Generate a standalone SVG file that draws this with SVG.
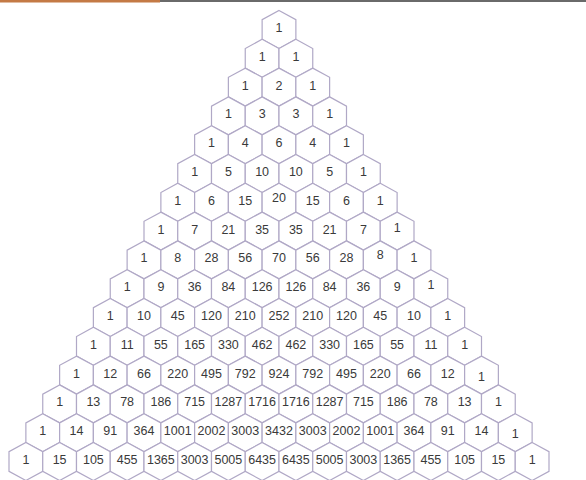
<svg xmlns="http://www.w3.org/2000/svg" xmlns:xlink="http://www.w3.org/1999/xlink" width="586" height="480" viewBox="0 0 586 480">
<defs>
<style>
.hx{fill:#ffffff;stroke:#b0a8c6;stroke-width:1.2}
text{font-family:"Liberation Sans",Arial,sans-serif;font-size:12.5px;fill:#3a3a3a;text-anchor:middle}
</style>
<path id="h" class="hx" d="M0,-19 L16.875,-9.8 L16.875,9.8 L0,19 L-16.875,9.8 L-16.875,-9.8 Z"/>
</defs>
<rect x="0" y="0" width="586" height="480" fill="#ffffff"/>
<rect x="0" y="0" width="160" height="2.5" fill="#c47a45"/>
<rect x="160" y="0" width="426" height="2" fill="#6a6a6a"/>
<g id="connectors"></g>
<g id="row0" transform="translate(279,29.5)">
<g id="n0_0"><use href="#h"/><text y="2.5">1</text></g>
</g>
<g id="row1" transform="translate(262.125,58.3)">
<g id="n1_0"><use href="#h"/><text y="2.5">1</text></g>
<g id="n1_1" transform="translate(33.75,0)"><use href="#h"/><text y="2.5">1</text></g>
</g>
<g id="row2" transform="translate(245.25,87.1)">
<g id="n2_0"><use href="#h"/><text y="2.5">1</text></g>
<g id="n2_1" transform="translate(33.75,0)"><use href="#h"/><text y="2.5">2</text></g>
<g id="n2_2" transform="translate(67.5,0)"><use href="#h"/><text y="2.5">1</text></g>
</g>
<g id="row3" transform="translate(228.375,115.9)">
<g id="n3_0"><use href="#h"/><text y="2.5">1</text></g>
<g id="n3_1" transform="translate(33.75,0)"><use href="#h"/><text y="2.5">3</text></g>
<g id="n3_2" transform="translate(67.5,0)"><use href="#h"/><text y="2.5">3</text></g>
<g id="n3_3" transform="translate(101.25,0)"><use href="#h"/><text y="2.5">1</text></g>
</g>
<g id="row4" transform="translate(211.5,144.7)">
<g id="n4_0"><use href="#h"/><text y="2.5">1</text></g>
<g id="n4_1" transform="translate(33.75,0)"><use href="#h"/><text y="2.5">4</text></g>
<g id="n4_2" transform="translate(67.5,0)"><use href="#h"/><text y="2.5">6</text></g>
<g id="n4_3" transform="translate(101.25,0)"><use href="#h"/><text y="2.5">4</text></g>
<g id="n4_4" transform="translate(135,0)"><use href="#h"/><text y="2.5">1</text></g>
</g>
<g id="row5" transform="translate(194.625,173.5)">
<g id="n5_0"><use href="#h"/><text y="2.5">1</text></g>
<g id="n5_1" transform="translate(33.75,0)"><use href="#h"/><text y="2.5">5</text></g>
<g id="n5_2" transform="translate(67.5,0)"><use href="#h"/><text y="2.5">10</text></g>
<g id="n5_3" transform="translate(101.25,0)"><use href="#h"/><text y="2.5">10</text></g>
<g id="n5_4" transform="translate(135,0)"><use href="#h"/><text y="2.5">5</text></g>
<g id="n5_5" transform="translate(168.75,0)"><use href="#h"/><text y="2.5">1</text></g>
</g>
<g id="row6" transform="translate(177.75,202.3)">
<g id="n6_0"><use href="#h"/><text y="2.5">1</text></g>
<g id="n6_1" transform="translate(33.75,0)"><use href="#h"/><text y="2.5">6</text></g>
<g id="n6_2" transform="translate(67.5,0)"><use href="#h"/><text y="2.5">15</text></g>
<g id="n6_3" transform="translate(101.25,0)"><use href="#h"/><text y="0">20</text></g>
<g id="n6_4" transform="translate(135,0)"><use href="#h"/><text y="2.5">15</text></g>
<g id="n6_5" transform="translate(168.75,0)"><use href="#h"/><text y="2.5">6</text></g>
<g id="n6_6" transform="translate(202.5,0)"><use href="#h"/><text y="2.5">1</text></g>
</g>
<g id="row7" transform="translate(160.875,231.1)">
<g id="n7_0"><use href="#h"/><text y="2.5">1</text></g>
<g id="n7_1" transform="translate(33.75,0)"><use href="#h"/><text y="2.5">7</text></g>
<g id="n7_2" transform="translate(67.5,0)"><use href="#h"/><text y="2.5">21</text></g>
<g id="n7_3" transform="translate(101.25,0)"><use href="#h"/><text y="2.5">35</text></g>
<g id="n7_4" transform="translate(135,0)"><use href="#h"/><text y="2.5">35</text></g>
<g id="n7_5" transform="translate(168.75,0)"><use href="#h"/><text y="2.5">21</text></g>
<g id="n7_6" transform="translate(202.5,0)"><use href="#h"/><text y="2.5">7</text></g>
<g id="n7_7" transform="translate(236.25,0)"><use href="#h"/><text y="0.5">1</text></g>
</g>
<g id="row8" transform="translate(144,259.9)">
<g id="n8_0"><use href="#h"/><text y="2.5">1</text></g>
<g id="n8_1" transform="translate(33.75,0)"><use href="#h"/><text y="2.5">8</text></g>
<g id="n8_2" transform="translate(67.5,0)"><use href="#h"/><text y="2.5">28</text></g>
<g id="n8_3" transform="translate(101.25,0)"><use href="#h"/><text y="2.5">56</text></g>
<g id="n8_4" transform="translate(135,0)"><use href="#h"/><text y="2.5">70</text></g>
<g id="n8_5" transform="translate(168.75,0)"><use href="#h"/><text y="2.5">56</text></g>
<g id="n8_6" transform="translate(202.5,0)"><use href="#h"/><text y="2.5">28</text></g>
<g id="n8_7" transform="translate(236.25,0)"><use href="#h"/><text y="-0.5">8</text></g>
<g id="n8_8" transform="translate(270,0)"><use href="#h"/><text y="2.5">1</text></g>
</g>
<g id="row9" transform="translate(127.125,288.7)">
<g id="n9_0"><use href="#h"/><text y="2.5">1</text></g>
<g id="n9_1" transform="translate(33.75,0)"><use href="#h"/><text y="2.5">9</text></g>
<g id="n9_2" transform="translate(67.5,0)"><use href="#h"/><text y="2.5">36</text></g>
<g id="n9_3" transform="translate(101.25,0)"><use href="#h"/><text y="2.5">84</text></g>
<g id="n9_4" transform="translate(135,0)"><use href="#h"/><text y="2.5">126</text></g>
<g id="n9_5" transform="translate(168.75,0)"><use href="#h"/><text y="2.5">126</text></g>
<g id="n9_6" transform="translate(202.5,0)"><use href="#h"/><text y="2.5">84</text></g>
<g id="n9_7" transform="translate(236.25,0)"><use href="#h"/><text y="2.5">36</text></g>
<g id="n9_8" transform="translate(270,0)"><use href="#h"/><text y="2.5">9</text></g>
<g id="n9_9" transform="translate(303.75,0)"><use href="#h"/><text y="0.5">1</text></g>
</g>
<g id="row10" transform="translate(110.25,317.5)">
<g id="n10_0"><use href="#h"/><text y="2.5">1</text></g>
<g id="n10_1" transform="translate(33.75,0)"><use href="#h"/><text y="2.5">10</text></g>
<g id="n10_2" transform="translate(67.5,0)"><use href="#h"/><text y="2.5">45</text></g>
<g id="n10_3" transform="translate(101.25,0)"><use href="#h"/><text y="2.5">120</text></g>
<g id="n10_4" transform="translate(135,0)"><use href="#h"/><text y="2.5">210</text></g>
<g id="n10_5" transform="translate(168.75,0)"><use href="#h"/><text y="2.5">252</text></g>
<g id="n10_6" transform="translate(202.5,0)"><use href="#h"/><text y="2.5">210</text></g>
<g id="n10_7" transform="translate(236.25,0)"><use href="#h"/><text y="2.5">120</text></g>
<g id="n10_8" transform="translate(270,0)"><use href="#h"/><text y="2.5">45</text></g>
<g id="n10_9" transform="translate(303.75,0)"><use href="#h"/><text y="2.5">10</text></g>
<g id="n10_10" transform="translate(337.5,0)"><use href="#h"/><text y="2.5">1</text></g>
</g>
<g id="row11" transform="translate(93.375,346.3)">
<g id="n11_0"><use href="#h"/><text y="2.5">1</text></g>
<g id="n11_1" transform="translate(33.75,0)"><use href="#h"/><text y="2.5">11</text></g>
<g id="n11_2" transform="translate(67.5,0)"><use href="#h"/><text y="2.5">55</text></g>
<g id="n11_3" transform="translate(101.25,0)"><use href="#h"/><text y="2.5">165</text></g>
<g id="n11_4" transform="translate(135,0)"><use href="#h"/><text y="2.5">330</text></g>
<g id="n11_5" transform="translate(168.75,0)"><use href="#h"/><text y="2.5">462</text></g>
<g id="n11_6" transform="translate(202.5,0)"><use href="#h"/><text y="2.5">462</text></g>
<g id="n11_7" transform="translate(236.25,0)"><use href="#h"/><text y="2.5">330</text></g>
<g id="n11_8" transform="translate(270,0)"><use href="#h"/><text y="2.5">165</text></g>
<g id="n11_9" transform="translate(303.75,0)"><use href="#h"/><text y="2.5">55</text></g>
<g id="n11_10" transform="translate(337.5,0)"><use href="#h"/><text y="2.5">11</text></g>
<g id="n11_11" transform="translate(371.25,0)"><use href="#h"/><text y="2.5">1</text></g>
</g>
<g id="row12" transform="translate(76.5,375.1)">
<g id="n12_0"><use href="#h"/><text y="2.5">1</text></g>
<g id="n12_1" transform="translate(33.75,0)"><use href="#h"/><text y="2.5">12</text></g>
<g id="n12_2" transform="translate(67.5,0)"><use href="#h"/><text y="2.5">66</text></g>
<g id="n12_3" transform="translate(101.25,0)"><use href="#h"/><text y="2.5">220</text></g>
<g id="n12_4" transform="translate(135,0)"><use href="#h"/><text y="2.5">495</text></g>
<g id="n12_5" transform="translate(168.75,0)"><use href="#h"/><text y="2.5">792</text></g>
<g id="n12_6" transform="translate(202.5,0)"><use href="#h"/><text y="2.5">924</text></g>
<g id="n12_7" transform="translate(236.25,0)"><use href="#h"/><text y="2.5">792</text></g>
<g id="n12_8" transform="translate(270,0)"><use href="#h"/><text y="2.5">495</text></g>
<g id="n12_9" transform="translate(303.75,0)"><use href="#h"/><text y="2.5">220</text></g>
<g id="n12_10" transform="translate(337.5,0)"><use href="#h"/><text y="2.5">66</text></g>
<g id="n12_11" transform="translate(371.25,0)"><use href="#h"/><text y="2.5">12</text></g>
<g id="n12_12" transform="translate(405,0)"><use href="#h"/><text y="5.5">1</text></g>
</g>
<g id="row13" transform="translate(59.625,403.9)">
<g id="n13_0"><use href="#h"/><text y="2.5">1</text></g>
<g id="n13_1" transform="translate(33.75,0)"><use href="#h"/><text y="2.5">13</text></g>
<g id="n13_2" transform="translate(67.5,0)"><use href="#h"/><text y="2.5">78</text></g>
<g id="n13_3" transform="translate(101.25,0)"><use href="#h"/><text y="2.5">186</text></g>
<g id="n13_4" transform="translate(135,0)"><use href="#h"/><text y="2.5">715</text></g>
<g id="n13_5" transform="translate(168.75,0)"><use href="#h"/><text y="2.5">1287</text></g>
<g id="n13_6" transform="translate(202.5,0)"><use href="#h"/><text y="2.5">1716</text></g>
<g id="n13_7" transform="translate(236.25,0)"><use href="#h"/><text y="2.5">1716</text></g>
<g id="n13_8" transform="translate(270,0)"><use href="#h"/><text y="2.5">1287</text></g>
<g id="n13_9" transform="translate(303.75,0)"><use href="#h"/><text y="2.5">715</text></g>
<g id="n13_10" transform="translate(337.5,0)"><use href="#h"/><text y="2.5">186</text></g>
<g id="n13_11" transform="translate(371.25,0)"><use href="#h"/><text y="2.5">78</text></g>
<g id="n13_12" transform="translate(405,0)"><use href="#h"/><text y="2.5">13</text></g>
<g id="n13_13" transform="translate(438.75,0)"><use href="#h"/><text y="2.5">1</text></g>
</g>
<g id="row14" transform="translate(42.75,432.7)">
<g id="n14_0"><use href="#h"/><text y="2.5">1</text></g>
<g id="n14_1" transform="translate(33.75,0)"><use href="#h"/><text y="2.5">14</text></g>
<g id="n14_2" transform="translate(67.5,0)"><use href="#h"/><text y="2.5">91</text></g>
<g id="n14_3" transform="translate(101.25,0)"><use href="#h"/><text y="2.5">364</text></g>
<g id="n14_4" transform="translate(135,0)"><use href="#h"/><text y="2.5">1001</text></g>
<g id="n14_5" transform="translate(168.75,0)"><use href="#h"/><text y="2.5">2002</text></g>
<g id="n14_6" transform="translate(202.5,0)"><use href="#h"/><text y="2.5">3003</text></g>
<g id="n14_7" transform="translate(236.25,0)"><use href="#h"/><text y="2.5">3432</text></g>
<g id="n14_8" transform="translate(270,0)"><use href="#h"/><text y="2.5">3003</text></g>
<g id="n14_9" transform="translate(303.75,0)"><use href="#h"/><text y="2.5">2002</text></g>
<g id="n14_10" transform="translate(337.5,0)"><use href="#h"/><text y="2.5">1001</text></g>
<g id="n14_11" transform="translate(371.25,0)"><use href="#h"/><text y="2.5">364</text></g>
<g id="n14_12" transform="translate(405,0)"><use href="#h"/><text y="2.5">91</text></g>
<g id="n14_13" transform="translate(438.75,0)"><use href="#h"/><text y="2.5">14</text></g>
<g id="n14_14" transform="translate(472.5,0)"><use href="#h"/><text y="5.5">1</text></g>
</g>
<g id="row15" transform="translate(25.875,461.5)">
<g id="n15_0"><use href="#h"/><text y="2.5">1</text></g>
<g id="n15_1" transform="translate(33.75,0)"><use href="#h"/><text y="2.5">15</text></g>
<g id="n15_2" transform="translate(67.5,0)"><use href="#h"/><text y="2.5">105</text></g>
<g id="n15_3" transform="translate(101.25,0)"><use href="#h"/><text y="2.5">455</text></g>
<g id="n15_4" transform="translate(135,0)"><use href="#h"/><text y="2.5">1365</text></g>
<g id="n15_5" transform="translate(168.75,0)"><use href="#h"/><text y="2.5">3003</text></g>
<g id="n15_6" transform="translate(202.5,0)"><use href="#h"/><text y="2.5">5005</text></g>
<g id="n15_7" transform="translate(236.25,0)"><use href="#h"/><text y="2.5">6435</text></g>
<g id="n15_8" transform="translate(270,0)"><use href="#h"/><text y="2.5">6435</text></g>
<g id="n15_9" transform="translate(303.75,0)"><use href="#h"/><text y="2.5">5005</text></g>
<g id="n15_10" transform="translate(337.5,0)"><use href="#h"/><text y="2.5">3003</text></g>
<g id="n15_11" transform="translate(371.25,0)"><use href="#h"/><text y="2.5">1365</text></g>
<g id="n15_12" transform="translate(405,0)"><use href="#h"/><text y="2.5">455</text></g>
<g id="n15_13" transform="translate(438.75,0)"><use href="#h"/><text y="2.5">105</text></g>
<g id="n15_14" transform="translate(472.5,0)"><use href="#h"/><text y="2.5">15</text></g>
<g id="n15_15" transform="translate(506.25,0)"><use href="#h"/><text y="2.5">1</text></g>
</g>
</svg>
